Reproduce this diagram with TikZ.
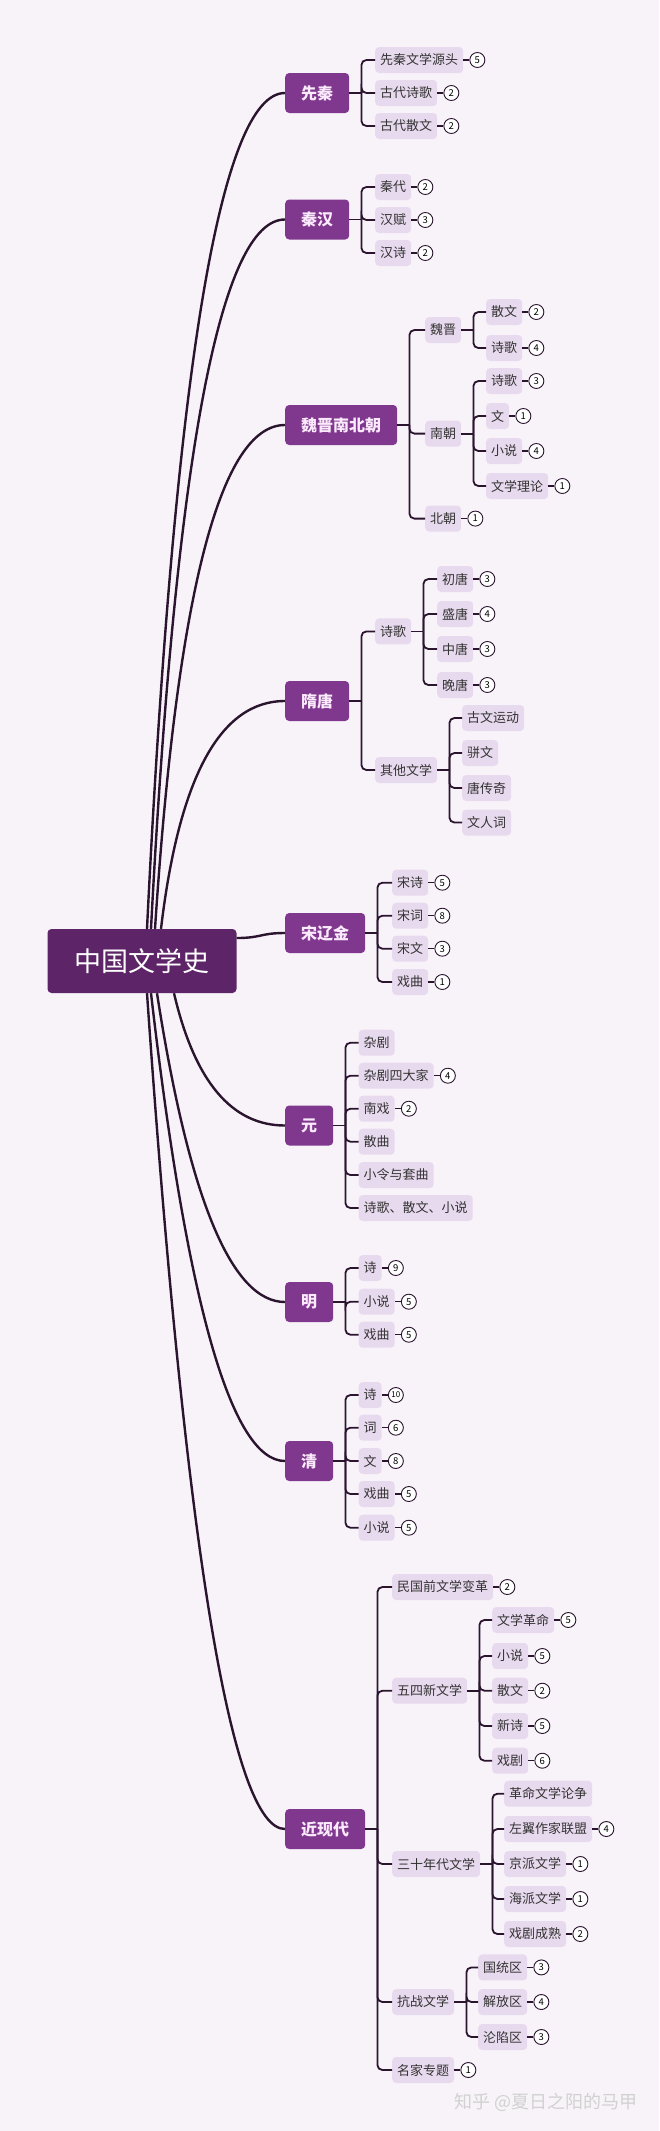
\documentclass[tikz,border=0pt]{standalone}
\usepackage{fontspec}
\setmainfont{Noto Sans CJK SC}
\usetikzlibrary{positioning,calc}
\definecolor{bgpink}{HTML}{F8F3F9}
\definecolor{rootpurple}{HTML}{5E2468}
\definecolor{erapurple}{HTML}{80388E}
\definecolor{leaflilac}{HTML}{E8DAEE}
\definecolor{inkline}{HTML}{2A142E}
\definecolor{paletext}{HTML}{FBEAFB}
\tikzstyle{root}=[rectangle,rounded corners=4pt,fill=rootpurple,text=white,inner xsep=27pt,minimum height=64pt,font=\fontsize{27}{27}\selectfont]
\tikzstyle{era}=[rectangle,rounded corners=4pt,fill=erapurple,text=paletext,inner xsep=16pt,minimum height=40pt,font=\bfseries\fontsize{16}{16}\selectfont,anchor=west]
\tikzstyle{leaf}=[rectangle,rounded corners=4pt,fill=leaflilac,text=black!80,inner xsep=5pt,minimum height=26pt,font=\fontsize{13}{13}\selectfont,anchor=west]
\tikzstyle{badge}=[circle,draw=inkline,fill=white,line width=0.9pt,inner sep=0pt,minimum size=15pt,font=\fontsize{9.5}{9.5}\selectfont]
\tikzstyle{trunk}=[draw=inkline,line width=2.4pt]
\tikzstyle{twig}=[draw=inkline,line width=1.8pt,rounded corners=5pt]
\tikzstyle{tick}=[draw=inkline,line width=1.4pt]
\newcommand{\limb}[3]{\draw[trunk] (#1) .. controls ($(#1)!0.667!(#3,0 |- #2.west)$) and ($(#2.west)!0.667!(#3,0 |- #2.west)$) .. (#2.west);}

\begin{document}
\begin{tikzpicture}[x=1pt,y=-1pt]
\fill[bgpink] (0,0) rectangle (659,2131);
\useasboundingbox (0,0) rectangle (659,2131);

\node[root] (root) at (142,961) {中国文学史};

\node[era] (xianqin) at (285,93) {先秦};
\node[era] (qinhan) at (285,219.5) {秦汉};
\node[era] (weijin) at (285,425) {魏晋南北朝};
\node[era] (suitang) at (285,701) {隋唐};
\node[era] (song) at (285,933) {宋辽金};
\node[era] (yuan) at (285,1125.5) {元};
\node[era] (ming) at (285,1302) {明};
\node[era] (qing) at (285,1461) {清};
\node[era] (jindai) at (285,1829) {近现代};

% trunks
\coordinate (up1) at ([xshift=5pt]root.north);
\coordinate (up2) at ([xshift=9pt]root.north);
\coordinate (up3) at ([xshift=13pt]root.north);
\coordinate (up4) at ([xshift=19pt]root.north);
\coordinate (dn1) at ([xshift=32pt]root.south);
\coordinate (dn2) at ([xshift=15pt]root.south);
\coordinate (dn3) at ([xshift=9pt]root.south);
\coordinate (dn4) at ([xshift=5pt]root.south);
\limb{up1}{xianqin}{188}
\limb{up2}{qinhan}{188}
\limb{up3}{weijin}{188}
\limb{up4}{suitang}{188}
\draw[trunk] ([yshift=23pt]root.east) .. controls +(25pt,0) and +(-25pt,0) .. (song.west);
\limb{dn1}{yuan}{205}
\limb{dn2}{ming}{205}
\limb{dn3}{qing}{205}
\limb{dn4}{jindai}{205}

% 先秦
\node[leaf] (xq1) at (375,60) {先秦文学源头};
\node[leaf] (xq2) at (375,93) {古代诗歌};
\node[leaf] (xq3) at (375,126) {古代散文};
\node[badge,right=6pt of xq1] (xq1n) {5};
\node[badge,right=6pt of xq2] (xq2n) {2};
\node[badge,right=6pt of xq3] (xq3n) {2};
\coordinate (xqb) at ([xshift=12pt]xianqin.east);
\draw[twig] (xianqin.east) -- (xqb);
\draw[twig] (xqb) |- (xq1.west);
\draw[twig] (xqb) |- (xq2.west);
\draw[twig] (xqb) |- (xq3.west);
\draw[tick] (xq1) -- (xq1n);
\draw[tick] (xq2) -- (xq2n);
\draw[tick] (xq3) -- (xq3n);

% 秦汉
\node[leaf] (qh1) at (375,187) {秦代};
\node[leaf] (qh2) at (375,220) {汉赋};
\node[leaf] (qh3) at (375,253) {汉诗};
\node[badge,right=6pt of qh1] (qh1n) {2};
\node[badge,right=6pt of qh2] (qh2n) {3};
\node[badge,right=6pt of qh3] (qh3n) {2};
\coordinate (qhb) at ([xshift=12pt]qinhan.east);
\draw[twig] (qinhan.east) -- (qhb);
\draw[twig] (qhb) |- (qh1.west);
\draw[twig] (qhb) |- (qh2.west);
\draw[twig] (qhb) |- (qh3.west);
\draw[tick] (qh1) -- (qh1n);
\draw[tick] (qh2) -- (qh2n);
\draw[tick] (qh3) -- (qh3n);

% 魏晋南北朝
\node[leaf] (wj1) at (425,330) {魏晋};
\node[leaf] (wj2) at (425,433.6) {南朝};
\node[leaf] (wj3) at (425,518.6) {北朝};
\node[badge,right=6pt of wj3] (wj3n) {1};
\coordinate (wjb) at ([xshift=12pt]weijin.east);
\draw[twig] (weijin.east) -- (wjb);
\draw[twig] (wjb) |- (wj1.west);
\draw[twig] (wjb) |- (wj2.west);
\draw[twig] (wjb) |- (wj3.west);
\draw[tick] (wj3) -- (wj3n);
\node[leaf] (wj11) at (486,312) {散文};
\node[leaf] (wj12) at (486,348) {诗歌};
\node[badge,right=6pt of wj11] (wj11n) {2};
\node[badge,right=6pt of wj12] (wj12n) {4};
\coordinate (wj1b) at ([xshift=12pt]wj1.east);
\draw[twig] (wj1.east) -- (wj1b);
\draw[twig] (wj1b) |- (wj11.west);
\draw[twig] (wj1b) |- (wj12.west);
\draw[tick] (wj11) -- (wj11n);
\draw[tick] (wj12) -- (wj12n);
\node[leaf] (wj21) at (486,381) {诗歌};
\node[leaf] (wj22) at (486,416) {文};
\node[leaf] (wj23) at (486,451) {小说};
\node[leaf] (wj24) at (486,486) {文学理论};
\node[badge,right=6pt of wj21] (wj21n) {3};
\node[badge,right=6pt of wj22] (wj22n) {1};
\node[badge,right=6pt of wj23] (wj23n) {4};
\node[badge,right=6pt of wj24] (wj24n) {1};
\coordinate (wj2b) at ([xshift=12pt]wj2.east);
\draw[twig] (wj2.east) -- (wj2b);
\draw[twig] (wj2b) |- (wj21.west);
\draw[twig] (wj2b) |- (wj22.west);
\draw[twig] (wj2b) |- (wj23.west);
\draw[twig] (wj2b) |- (wj24.west);
\draw[tick] (wj21) -- (wj21n);
\draw[tick] (wj22) -- (wj22n);
\draw[tick] (wj23) -- (wj23n);
\draw[tick] (wj24) -- (wj24n);

% 隋唐
\node[leaf] (st1) at (375,631.4) {诗歌};
\node[leaf] (st2) at (375,770) {其他文学};
\coordinate (stb) at ([xshift=12pt]suitang.east);
\draw[twig] (suitang.east) -- (stb);
\draw[twig] (stb) |- (st1.west);
\draw[twig] (stb) |- (st2.west);
\node[leaf] (st11) at (437,579) {初唐};
\node[leaf] (st12) at (437,614) {盛唐};
\node[leaf] (st13) at (437,649) {中唐};
\node[leaf] (st14) at (437,685) {晚唐};
\node[badge,right=6pt of st11] (st11n) {3};
\node[badge,right=6pt of st12] (st12n) {4};
\node[badge,right=6pt of st13] (st13n) {3};
\node[badge,right=6pt of st14] (st14n) {3};
\coordinate (st1b) at ([xshift=12pt]st1.east);
\draw[twig] (st1.east) -- (st1b);
\draw[twig] (st1b) |- (st11.west);
\draw[twig] (st1b) |- (st12.west);
\draw[twig] (st1b) |- (st13.west);
\draw[twig] (st1b) |- (st14.west);
\draw[tick] (st11) -- (st11n);
\draw[tick] (st12) -- (st12n);
\draw[tick] (st13) -- (st13n);
\draw[tick] (st14) -- (st14n);
\node[leaf] (st21) at (462,718) {古文运动};
\node[leaf] (st22) at (462,753) {骈文};
\node[leaf] (st23) at (462,788) {唐传奇};
\node[leaf] (st24) at (462,822.5) {文人词};
\coordinate (st2b) at ([xshift=12pt]st2.east);
\draw[twig] (st2.east) -- (st2b);
\draw[twig] (st2b) |- (st21.west);
\draw[twig] (st2b) |- (st22.west);
\draw[twig] (st2b) |- (st23.west);
\draw[twig] (st2b) |- (st24.west);

% 宋辽金
\node[leaf] (sg1) at (392,882.7) {宋诗};
\node[leaf] (sg2) at (392,915.7) {宋词};
\node[leaf] (sg3) at (392,948.7) {宋文};
\node[leaf] (sg4) at (392,982) {戏曲};
\node[badge,right=6pt of sg1] (sg1n) {5};
\node[badge,right=6pt of sg2] (sg2n) {8};
\node[badge,right=6pt of sg3] (sg3n) {3};
\node[badge,right=6pt of sg4] (sg4n) {1};
\coordinate (sgb) at ([xshift=12pt]song.east);
\draw[twig] (song.east) -- (sgb);
\draw[twig] (sgb) |- (sg1.west);
\draw[twig] (sgb) |- (sg2.west);
\draw[twig] (sgb) |- (sg3.west);
\draw[twig] (sgb) |- (sg4.west);
\draw[tick] (sg1) -- (sg1n);
\draw[tick] (sg2) -- (sg2n);
\draw[tick] (sg3) -- (sg3n);
\draw[tick] (sg4) -- (sg4n);

% 元
\node[leaf] (yu1) at (358.5,1042.7) {杂剧};
\node[leaf] (yu2) at (358.5,1075.7) {杂剧四大家};
\node[leaf] (yu3) at (358.5,1108.7) {南戏};
\node[leaf] (yu4) at (358.5,1141.7) {散曲};
\node[leaf] (yu5) at (358.5,1175) {小令与套曲};
\node[leaf] (yu6) at (358.5,1208) {诗歌、散文、小说};
\node[badge,right=6pt of yu2] (yu2n) {4};
\node[badge,right=6pt of yu3] (yu3n) {2};
\coordinate (yub) at ([xshift=12pt]yuan.east);
\draw[twig] (yuan.east) -- (yub);
\draw[twig] (yub) |- (yu1.west);
\draw[twig] (yub) |- (yu2.west);
\draw[twig] (yub) |- (yu3.west);
\draw[twig] (yub) |- (yu4.west);
\draw[twig] (yub) |- (yu5.west);
\draw[twig] (yub) |- (yu6.west);
\draw[tick] (yu2) -- (yu2n);
\draw[tick] (yu3) -- (yu3n);

% 明
\node[leaf] (mi1) at (358.5,1268) {诗};
\node[leaf] (mi2) at (358.5,1301.7) {小说};
\node[leaf] (mi3) at (358.5,1334.7) {戏曲};
\node[badge,right=6pt of mi1] (mi1n) {9};
\node[badge,right=6pt of mi2] (mi2n) {5};
\node[badge,right=6pt of mi3] (mi3n) {5};
\coordinate (mib) at ([xshift=12pt]ming.east);
\draw[twig] (ming.east) -- (mib);
\draw[twig] (mib) |- (mi1.west);
\draw[twig] (mib) |- (mi2.west);
\draw[twig] (mib) |- (mi3.west);
\draw[tick] (mi1) -- (mi1n);
\draw[tick] (mi2) -- (mi2n);
\draw[tick] (mi3) -- (mi3n);

% 清
\node[leaf] (qi1) at (358.5,1395) {诗};
\node[leaf] (qi2) at (358.5,1427.7) {词};
\node[leaf] (qi3) at (358.5,1461) {文};
\node[leaf] (qi4) at (358.5,1494) {戏曲};
\node[leaf] (qi5) at (358.5,1527.7) {小说};
\node[badge,right=6pt of qi1,font=\fontsize{8}{8}\selectfont] (qi1n) {10};
\node[badge,right=6pt of qi2] (qi2n) {6};
\node[badge,right=6pt of qi3] (qi3n) {8};
\node[badge,right=6pt of qi4] (qi4n) {5};
\node[badge,right=6pt of qi5] (qi5n) {5};
\coordinate (qib) at ([xshift=12pt]qing.east);
\draw[twig] (qing.east) -- (qib);
\draw[twig] (qib) |- (qi1.west);
\draw[twig] (qib) |- (qi2.west);
\draw[twig] (qib) |- (qi3.west);
\draw[twig] (qib) |- (qi4.west);
\draw[twig] (qib) |- (qi5.west);
\draw[tick] (qi1) -- (qi1n);
\draw[tick] (qi2) -- (qi2n);
\draw[tick] (qi3) -- (qi3n);
\draw[tick] (qi4) -- (qi4n);
\draw[tick] (qi5) -- (qi5n);

% 近现代
\node[leaf] (jd1) at (392,1587) {民国前文学变革};
\node[leaf] (jd2) at (392,1690.7) {五四新文学};
\node[leaf] (jd3) at (392,1864) {三十年代文学};
\node[leaf] (jd4) at (392,2002) {抗战文学};
\node[leaf] (jd5) at (392,2070) {名家专题};
\node[badge,right=6pt of jd1] (jd1n) {2};
\node[badge,right=6pt of jd5] (jd5n) {1};
\coordinate (jdb) at ([xshift=12pt]jindai.east);
\draw[twig] (jindai.east) -- (jdb);
\draw[twig] (jdb) |- (jd1.west);
\draw[twig] (jdb) |- (jd2.west);
\draw[twig] (jdb) |- (jd3.west);
\draw[twig] (jdb) |- (jd4.west);
\draw[twig] (jdb) |- (jd5.west);
\draw[tick] (jd1) -- (jd1n);
\draw[tick] (jd5) -- (jd5n);
\node[leaf] (jd21) at (492,1620) {文学革命};
\node[leaf] (jd22) at (492,1656) {小说};
\node[leaf] (jd23) at (492,1690.7) {散文};
\node[leaf] (jd24) at (492,1726) {新诗};
\node[leaf] (jd25) at (492,1760.7) {戏剧};
\node[badge,right=6pt of jd21] (jd21n) {5};
\node[badge,right=6pt of jd22] (jd22n) {5};
\node[badge,right=6pt of jd23] (jd23n) {2};
\node[badge,right=6pt of jd24] (jd24n) {5};
\node[badge,right=6pt of jd25] (jd25n) {6};
\coordinate (jd2b) at ([xshift=12pt]jd2.east);
\draw[twig] (jd2.east) -- (jd2b);
\draw[twig] (jd2b) |- (jd21.west);
\draw[twig] (jd2b) |- (jd22.west);
\draw[twig] (jd2b) |- (jd23.west);
\draw[twig] (jd2b) |- (jd24.west);
\draw[twig] (jd2b) |- (jd25.west);
\draw[tick] (jd21) -- (jd21n);
\draw[tick] (jd22) -- (jd22n);
\draw[tick] (jd23) -- (jd23n);
\draw[tick] (jd24) -- (jd24n);
\draw[tick] (jd25) -- (jd25n);
\node[leaf] (jd31) at (504,1793.7) {革命文学论争};
\node[leaf] (jd32) at (504,1829) {左翼作家联盟};
\node[leaf] (jd33) at (504,1864) {京派文学};
\node[leaf] (jd34) at (504,1899) {海派文学};
\node[leaf] (jd35) at (504,1934) {戏剧成熟};
\node[badge,right=6pt of jd32] (jd32n) {4};
\node[badge,right=6pt of jd33] (jd33n) {1};
\node[badge,right=6pt of jd34] (jd34n) {1};
\node[badge,right=6pt of jd35] (jd35n) {2};
\coordinate (jd3b) at ([xshift=12pt]jd3.east);
\draw[twig] (jd3.east) -- (jd3b);
\draw[twig] (jd3b) |- (jd31.west);
\draw[twig] (jd3b) |- (jd32.west);
\draw[twig] (jd3b) |- (jd33.west);
\draw[twig] (jd3b) |- (jd34.west);
\draw[twig] (jd3b) |- (jd35.west);
\draw[tick] (jd32) -- (jd32n);
\draw[tick] (jd33) -- (jd33n);
\draw[tick] (jd34) -- (jd34n);
\draw[tick] (jd35) -- (jd35n);
\node[leaf] (jd41) at (478,1967.4) {国统区};
\node[leaf] (jd42) at (478,2002) {解放区};
\node[leaf] (jd43) at (478,2037) {沦陷区};
\node[badge,right=6pt of jd41] (jd41n) {3};
\node[badge,right=6pt of jd42] (jd42n) {4};
\node[badge,right=6pt of jd43] (jd43n) {3};
\coordinate (jd4b) at ([xshift=12pt]jd4.east);
\draw[twig] (jd4.east) -- (jd4b);
\draw[twig] (jd4b) |- (jd41.west);
\draw[twig] (jd4b) |- (jd42.west);
\draw[twig] (jd4b) |- (jd43.west);
\draw[tick] (jd41) -- (jd41n);
\draw[tick] (jd42) -- (jd42n);
\draw[tick] (jd43) -- (jd43n);

\node[anchor=east,text=black!18,font=\fontsize{18}{18}\selectfont] (mark) at (641,2102) {知乎 @夏日之阳的马甲};
\end{tikzpicture}
\end{document}
